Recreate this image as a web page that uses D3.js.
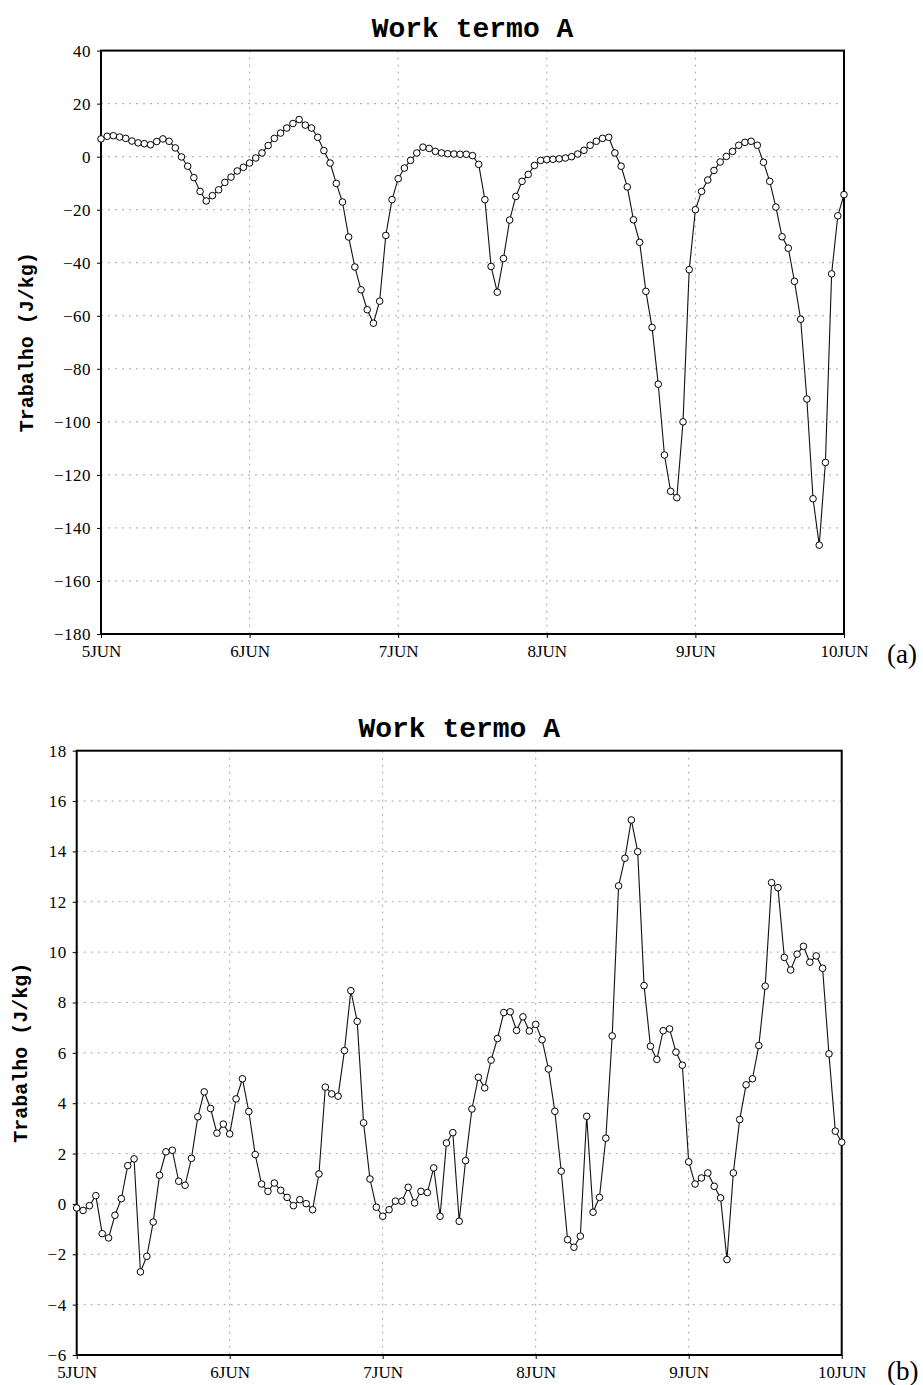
<!DOCTYPE html>
<html>
<head>
<meta charset="utf-8">
<script src="https://cdn.jsdelivr.net/npm/d3@7"></script>
<style>
  html, body { margin: 0; padding: 0; background: #fff; }
  svg { display: block; }
</style>
</head>
<body>
<svg id="chart" width="923" height="1385"></svg>
<script>
// ---------- data ----------
const dayLabels = ["5JUN", "6JUN", "7JUN", "8JUN", "9JUN", "10JUN"];
const dayHours = [0, 24, 48, 72, 96, 120];

// (a) hourly values, 5JUN 00h .. 10JUN 00h
const workA = [
  6.7, 7.7, 7.9, 7.4, 6.9, 5.9, 5.2, 4.9, 4.5, 5.7,
  6.7, 5.8, 3.3, -0.1, -3.6, -7.9, -13.1, -16.7, -14.7, -12.5,
  -9.7, -7.7, -5.4, -4.0, -2.4, -0.5, 1.4, 4.2, 6.9, 8.9,
  10.8, 12.5, 14.0, 11.9, 10.8, 7.3, 2.3, -2.4, -10.1, -17.1,
  -30.3, -41.6, -50.2, -57.7, -62.8, -54.5, -29.7, -16.2, -8.3, -4.3,
  -1.4, 1.4, 3.6, 3.1, 2.0, 1.4, 1.1, 1.0, 0.9, 0.9,
  0.4, -2.9, -16.2, -41.4, -51.1, -38.4, -23.9, -15.0, -9.3, -6.7,
  -3.3, -1.4, -1.1, -1.0, -0.8, -0.5, 0.0, 1.0, 2.4, 4.3,
  5.8, 6.9, 7.3, 1.4, -3.6, -11.4, -23.8, -32.3, -50.8, -64.4,
  -85.8, -112.5, -126.2, -128.6, -100.0, -42.6, -20.0, -13.1, -8.8, -5.2,
  -2.0, 0.1, 2.0, 4.3, 5.4, 5.8, 4.3, -2.1, -9.3, -19.0,
  -30.2, -34.5, -47.0, -61.3, -91.4, -129.0, -146.5, -115.3, -44.2, -22.3,
  -14.3
];

// (b) hourly values
const workB = [
  -0.16, -0.26, -0.07, 0.33, -1.18, -1.35, -0.45, 0.21, 1.52, 1.79,
  -2.70, -2.08, -0.72, 1.14, 2.07, 2.13, 0.90, 0.74, 1.81, 3.46,
  4.45, 3.79, 2.81, 3.17, 2.78, 4.17, 4.97, 3.67, 1.96, 0.79,
  0.50, 0.83, 0.54, 0.26, -0.07, 0.17, 0.01, -0.23, 1.19, 4.64,
  4.37, 4.28, 6.09, 8.47, 7.25, 3.22, 0.99, -0.13, -0.49, -0.23,
  0.11, 0.11, 0.66, 0.04, 0.50, 0.45, 1.43, -0.49, 2.42, 2.83,
  -0.69, 1.72, 3.77, 5.03, 4.61, 5.71, 6.57, 7.60, 7.63, 6.89,
  7.43, 6.87, 7.13, 6.52, 5.36, 3.68, 1.30, -1.42, -1.72, -1.28,
  3.48, -0.33, 0.26, 2.61, 6.67, 12.63, 13.73, 15.25, 13.99, 8.67,
  6.26, 5.74, 6.88, 6.95, 6.03, 5.51, 1.67, 0.79, 1.03, 1.23,
  0.70, 0.24, -2.21, 1.23, 3.35, 4.73, 4.97, 6.29, 8.65, 12.76,
  12.56, 9.79, 9.29, 9.92, 10.23, 9.60, 9.85, 9.36, 5.96, 2.89,
  2.45
];

const yTicksA = [40, 20, 0, -20, -40, -60, -80, -100, -120, -140, -160, -180];
const yTicksB = [18, 16, 14, 12, 10, 8, 6, 4, 2, 0, -2, -4, -6];

const titleText = "Work termo A";
const yLabelText = "Trabalho (J/kg)";

// ---------- drawing ----------
const svg = d3.select("#chart");
svg.append("rect").attr("width", 923).attr("height", 1385).attr("fill", "#fff");

function fmt(v) { return v < 0 ? "\u2212" + Math.abs(v) : String(v); }

function panel(cfg) {
  const { left, right, top, bottom, values, yTicks, yDomain, titleY, ylabX, panelLabel, panelLabelY } = cfg;
  const x = d3.scaleLinear().domain([0, 120]).range([left, right]);
  const y = d3.scaleLinear().domain(yDomain).range([bottom, top]);
  const g = svg.append("g");

  // grid
  g.append("g").selectAll("line.gy").data(yTicks.filter(t => t !== yDomain[0] && t !== yDomain[1]))
    .join("line")
    .attr("x1", left).attr("x2", right)
    .attr("y1", d => y(d)).attr("y2", d => y(d))
    .attr("stroke", "#a8a8a8").attr("stroke-width", 1).attr("stroke-dasharray", "2,5");
  g.append("g").selectAll("line.gx").data(dayHours.filter(h => h !== 0 && h !== 120))
    .join("line")
    .attr("x1", d => x(d)).attr("x2", d => x(d))
    .attr("y1", top).attr("y2", bottom)
    .attr("stroke", "#a8a8a8").attr("stroke-width", 1).attr("stroke-dasharray", "2,5");

  // axes
  const yAxis = d3.axisLeft(y).tickValues(yTicks).tickFormat(fmt).tickSize(4).tickPadding(6);
  const ya = g.append("g").attr("transform", `translate(${left},0)`).call(yAxis);
  ya.select(".domain").remove();
  ya.selectAll("text").attr("font-family", "'Liberation Serif', serif").attr("font-size", 17)
    .attr("fill", "#000").attr("letter-spacing", "0.5px");
  ya.selectAll("line").attr("stroke", "#000");

  const xAxis = d3.axisBottom(x).tickValues(dayHours).tickFormat((d, i) => dayLabels[i]).tickSize(4).tickPadding(7);
  const xa = g.append("g").attr("transform", `translate(0,${bottom})`).call(xAxis);
  xa.select(".domain").remove();
  xa.selectAll("text").attr("font-family", "'Liberation Serif', serif").attr("font-size", 17).attr("fill", "#000");
  xa.selectAll("line").attr("stroke", "#000");

  // frame
  g.append("rect").attr("x", left).attr("y", top).attr("width", right - left).attr("height", bottom - top)
    .attr("fill", "none").attr("stroke", "#000").attr("stroke-width", 2);

  // line
  const line = d3.line().x((d, i) => x(i)).y(d => y(d));
  g.append("path").datum(values).attr("d", line)
    .attr("fill", "none").attr("stroke", "#111").attr("stroke-width", 1.1);

  // markers
  g.append("g").selectAll("circle").data(values).join("circle")
    .attr("cx", (d, i) => x(i)).attr("cy", d => y(d)).attr("r", 3.3)
    .attr("fill", "#fff").attr("stroke", "#000").attr("stroke-width", 1);

  // title
  svg.append("text").attr("x", (left + right) / 2).attr("y", titleY)
    .attr("text-anchor", "middle")
    .attr("font-family", "'Liberation Mono', 'DejaVu Sans Mono', monospace")
    .attr("font-weight", "bold").attr("font-size", 28).attr("fill", "#000")
    .text(titleText);

  // y label
  svg.append("text")
    .attr("transform", `translate(${ylabX},${(top + bottom) / 2}) rotate(-90)`)
    .attr("text-anchor", "middle")
    .attr("font-family", "'Liberation Mono', 'DejaVu Sans Mono', monospace")
    .attr("font-weight", "bold").attr("font-size", 20).attr("fill", "#000")
    .text(yLabelText);

  // panel label
  svg.append("text").attr("x", 887).attr("y", panelLabelY)
    .attr("font-family", "'Liberation Serif', 'Times New Roman', serif")
    .attr("font-size", 27).attr("fill", "#000")
    .text(panelLabel);
}

panel({
  left: 101, right: 844, top: 50.6, bottom: 634,
  values: workA, yTicks: yTicksA, yDomain: [-180, 40],
  titleY: 37, ylabX: 33, panelLabel: "(a)", panelLabelY: 663
});

panel({
  left: 76.7, right: 841.7, top: 750.7, bottom: 1355,
  values: workB, yTicks: yTicksB, yDomain: [-6, 18],
  titleY: 737, ylabX: 27, panelLabel: "(b)", panelLabelY: 1380
});
</script>
</body>
</html>
